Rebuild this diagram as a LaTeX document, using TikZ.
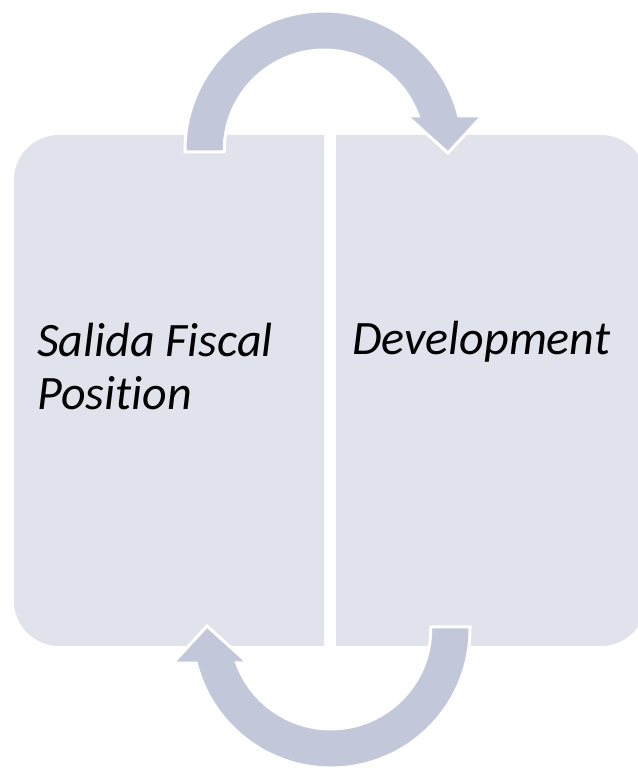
\documentclass[tikz,border=0pt]{standalone}
\usepackage{fontspec}
\setmainfont{Carlito}[RawFeature=-liga]
\begin{document}
\begin{tikzpicture}[x=1pt,y=1pt,
  panel/.style={fill=panelfill,draw=none},
  cyclearrow/.style={fill=arrowfill,draw=white,line width=3pt,line join=miter},
  label/.style={inner sep=0pt,anchor=base west,align=left,
    font=\fontsize{48}{53}\selectfont\itshape,text=black}]
\definecolor{panelfill}{RGB}{224,227,236}
\definecolor{arrowfill}{RGB}{194,199,218}
\useasboundingbox (0,0) rectangle (637,768);

% two panels, rounded only on their outer corners
\fill[panel] (324,122) -- (59,122) arc[start angle=270,end angle=180,radius=45]
  -- (14,588) arc[start angle=180,end angle=90,radius=45] -- (324,633) -- cycle;
\fill[panel] (336,122) -- (601,122) arc[start angle=-90,end angle=0,radius=45]
  -- (646,588) arc[start angle=0,end angle=90,radius=45] -- (336,633) -- cycle;

% curved arrow (upper one), drawn again turned half a turn for the lower one
\def\cyclepath{(185,616) -- (185,618)
  arc[start angle=180,end angle=14.2,radius=139] -- (482,652)
  -- (448,615) -- (407,652) -- (418.3,652)
  arc[start angle=19.9,end angle=180,radius=100] -- (224,616) -- cycle}
\draw[cyclearrow] \cyclepath;
\draw[cyclearrow,rotate around={180:(327.5,378.5)}] \cyclepath;

% the base anchor of a two-line label sits on its last line
\node[label] (left) at (37,358) {Salida Fiscal\\Position};
\node[label] (right) at (352,413) {Development};
\end{tikzpicture}
\end{document}
